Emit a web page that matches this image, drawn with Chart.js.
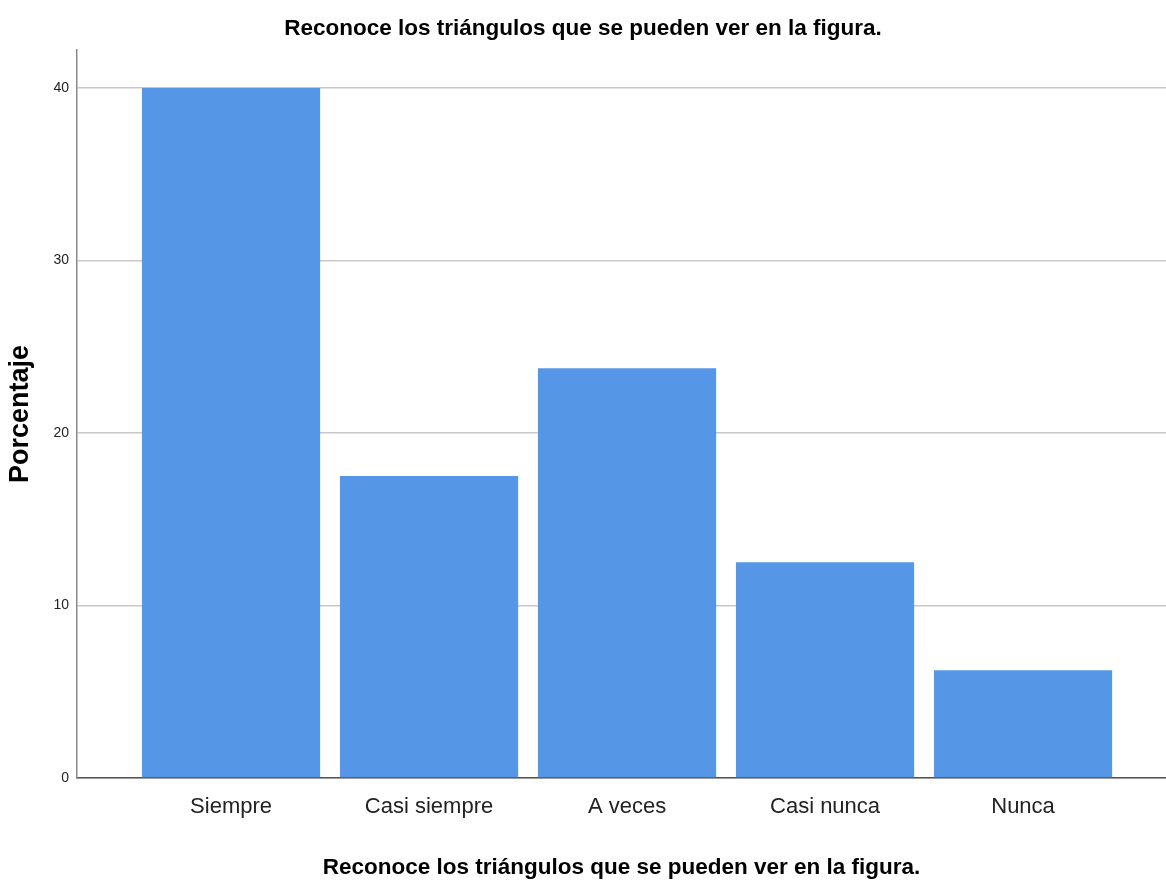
<!DOCTYPE html>
<html>
<head>
<meta charset="utf-8">
<script src="https://cdn.jsdelivr.net/npm/chart.js@4/dist/chart.umd.min.js"></script>
<style>
  html, body { margin: 0; padding: 0; background: #fff; }
  #wrap { width: 1166px; height: 881px; }
</style>
</head>
<body>
<div id="wrap"><canvas id="barChart" width="1166" height="881"></canvas></div>
<script>
const titleText = 'Reconoce los triángulos que se pueden ver en la figura.';
const categories = ['Siempre', 'Casi siempre', 'A veces', 'Casi nunca', 'Nunca'];
const percentages = [40, 17.5, 23.75, 12.5, 6.25];
const yTicks = [0, 10, 20, 30, 40];

const sans = "'Liberation Sans', Arial, sans-serif";

const ctx = document.getElementById('barChart').getContext('2d');
const barChart = new Chart(ctx, {
  type: 'bar',
  data: {
    datasets: [{
      label: 'Porcentaje',
      data: percentages.map((v, i) => ({ x: i, y: v })),
      backgroundColor: '#5596e6',
      borderWidth: 0,
      barPercentage: 0.9,
      categoryPercentage: 1.0
    }]
  },
  options: {
    responsive: false,
    animation: false,
    scales: {
      x: {
        type: 'linear',
        offset: false,
        min: -0.778,
        max: 4.722,
        afterBuildTicks: scale => { scale.ticks = categories.map((c, i) => ({ value: i })); },
        afterFit: scale => { scale.height = 103; },
        grid: { display: false, drawTicks: false, offset: false },
        border: { color: '#555555', width: 1.5 },
        ticks: {
          autoSkip: false,
          maxRotation: 0,
          padding: 16,
          color: '#222',
          font: { family: sans, size: 22 },
          callback: value => categories[value]
        },
        title: {
          display: true,
          text: titleText,
          color: '#000',
          font: { family: sans, size: 22.5, weight: 'bold' },
          padding: { top: 26, bottom: 0 }
        }
      },
      y: {
        min: 0,
        max: 42.2,
        afterBuildTicks: scale => { scale.ticks = yTicks.map(v => ({ value: v })); },
        afterFit: scale => { scale.width = 77; },
        grid: { color: '#c8c8c8', lineWidth: 1.5, drawTicks: false },
        border: { color: '#8a8a8a', width: 1.5 },
        ticks: {
          padding: 8,
          color: '#222',
          font: { family: sans, size: 14 }
        },
        title: {
          display: true,
          text: 'Porcentaje',
          color: '#000',
          font: { family: sans, size: 27, weight: 'bold' },
          padding: { top: 4, bottom: 0 }
        }
      }
    },
    plugins: {
      legend: { display: false },
      tooltip: { enabled: false },
      title: {
        display: true,
        text: titleText,
        color: '#000',
        font: { family: sans, size: 22.5, weight: 'bold', lineHeight: 1.2 },
        padding: { top: 15, bottom: 8 }
      }
    }
  }
});
</script>
</body>
</html>
